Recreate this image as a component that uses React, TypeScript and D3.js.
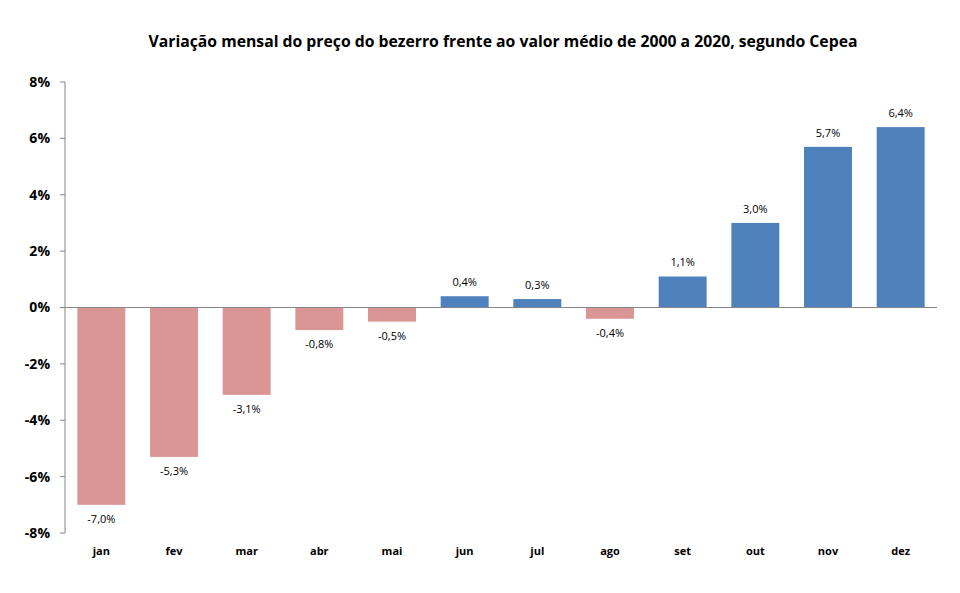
import React from 'react';
import * as d3 from 'd3';

const months = ['jan', 'fev', 'mar', 'abr', 'mai', 'jun', 'jul', 'ago', 'set', 'out', 'nov', 'dez'];
const variation = [-7.0, -5.3, -3.1, -0.8, -0.5, 0.4, 0.3, -0.4, 1.1, 3.0, 5.7, 6.4];
const yTicks = [-8, -6, -4, -2, 0, 2, 4, 6, 8];

const title = 'Variação mensal do preço do bezerro frente ao valor médio de 2000 a 2020, segundo Cepea';

const App = () => {
  const width = 960;
  const height = 593;
  const margin = { top: 82, right: 23, bottom: 60, left: 65 };

  const x = d3
    .scaleBand()
    .domain(months)
    .range([margin.left, width - margin.right])
    .paddingInner(0.34)
    .paddingOuter(0.17);

  const y = d3
    .scaleLinear()
    .domain([-8, 8])
    .range([height - margin.bottom, margin.top]);

  const font = 'Open Sans, Noto Sans, sans-serif';
  const fmt = (v: number) => v.toFixed(1).replace('.', ',') + '%';

  return (
    <svg width={width} height={height} style={{ position: 'absolute', left: 0, top: 0, background: 'white' }}>
      <text x={503} y={47} textAnchor="middle" fontFamily={font} fontWeight="bold" fontSize={15.75} fill="#000">
        {title}
      </text>

      {/* Y axis */}
      <line x1={margin.left} x2={margin.left} y1={y(8)} y2={y(-8)} stroke="#868686" />
      {yTicks.map((t) => (
        <g key={t}>
          <line x1={margin.left - 5} x2={margin.left} y1={y(t)} y2={y(t)} stroke="#868686" />
          <text
            x={50}
            y={y(t)}
            dy="0.35em"
            textAnchor="end"
            fontFamily={font}
            fontWeight="bold"
            fontSize={14}
            fill="#000"
          >
            {t}%
          </text>
        </g>
      ))}

      {/* Bars */}
      {variation.map((v, i) => {
        const m = months[i];
        const top = y(Math.max(0, v));
        const h = Math.abs(y(v) - y(0));
        const cx = (x(m) ?? 0) + x.bandwidth() / 2;
        return (
          <g key={m}>
            <rect x={x(m)} y={top} width={x.bandwidth()} height={h} fill={v < 0 ? '#D99694' : '#4F81BD'} />
            <text
              x={cx}
              y={v < 0 ? y(v) + 18 : y(v) - 10}
              textAnchor="middle"
              fontFamily={font}
              fontSize={11}
              fill="#000"
            >
              {fmt(v)}
            </text>
            <text
              x={cx}
              y={555}
              textAnchor="middle"
              fontFamily={font}
              fontWeight="bold"
              fontSize={11}
              fill="#000"
            >
              {m}
            </text>
          </g>
        );
      })}

      {/* Zero line */}
      <line x1={margin.left} x2={width - margin.right} y1={y(0)} y2={y(0)} stroke="#868686" />
    </svg>
  );
};

export default App;
